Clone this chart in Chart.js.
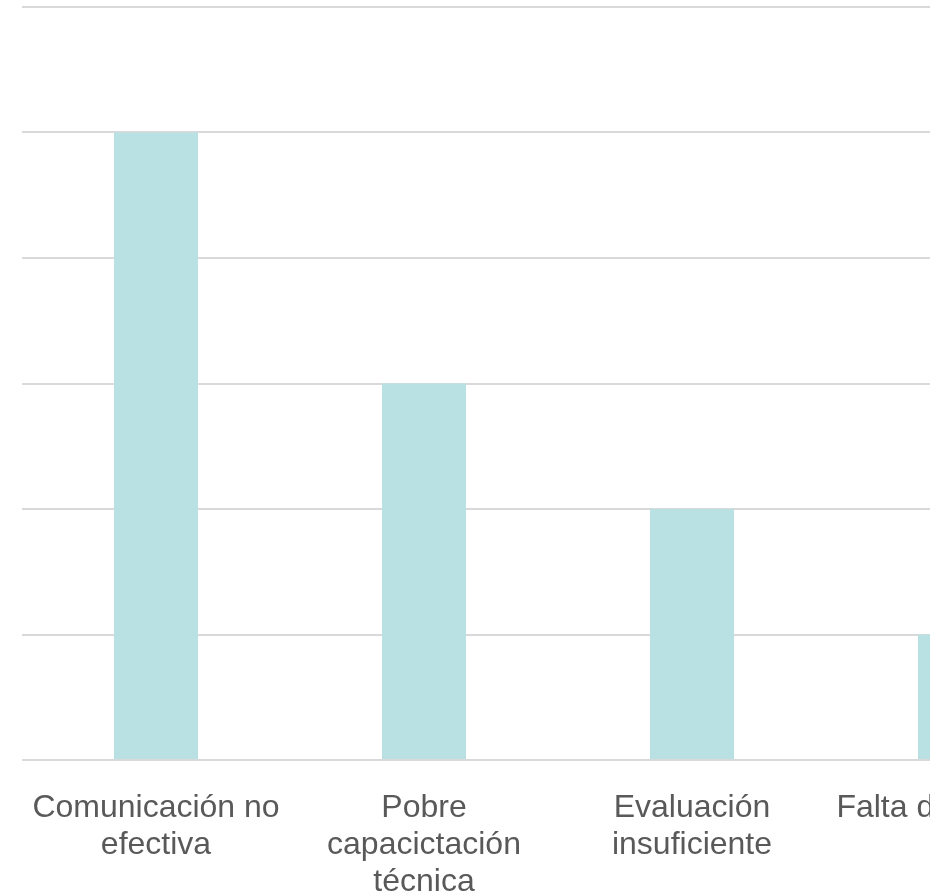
<!DOCTYPE html>
<html>
<head>
<meta charset="utf-8">
<script src="https://cdn.jsdelivr.net/npm/chart.js@4"></script>
<style>
  html, body { margin: 0; padding: 0; overflow: hidden; background: #ffffff; }
  #wrap { width: 930px; height: 893px; overflow: hidden; }
  canvas { display: block; }
</style>
</head>
<body>
<div id="wrap"><canvas id="c" width="1094" height="893"></canvas></div>
<script>
const categories = [
  ["Comunicación no", "efectiva"],
  ["Pobre", "capacictación", "técnica"],
  ["Evaluación", "insuficiente"],
  ["Falta de recursos"]
];
const values = [5, 3, 2, 1];
const yTicks = { min: 0, max: 6, step: 1 };

new Chart(document.getElementById('c'), {
  type: 'bar',
  data: {
    labels: categories,
    datasets: [{
      data: values,
      backgroundColor: '#b9e0e3',
      borderWidth: 0,
      categoryPercentage: 1,
      barPercentage: 0.3134
    }]
  },
  options: {
    responsive: false,
    animation: false,
    devicePixelRatio: 1,
    layout: { padding: { left: 22, right: 0, top: 7, bottom: 0 } },
    plugins: { legend: { display: false }, tooltip: { enabled: false } },
    scales: {
      x: {
        grid: { display: false, drawTicks: false },
        border: { display: false },
        ticks: {
          color: '#595959',
          font: { family: '"Liberation Sans", Arial, sans-serif', size: 32, lineHeight: 1.15 },
          padding: 30,
          maxRotation: 0,
          autoSkip: false
        },
        afterFit: (axis) => { axis.height = 133; axis.paddingLeft = 0; axis.paddingRight = 0; }
      },
      y: {
        min: yTicks.min,
        max: yTicks.max,
        ticks: { display: false, stepSize: yTicks.step },
        grid: { color: '#d9d9d9', lineWidth: 2, drawTicks: false },
        border: { display: false },
        afterFit: (axis) => { axis.width = 0; }
      }
    }
  }
});
</script>
</body>
</html>
